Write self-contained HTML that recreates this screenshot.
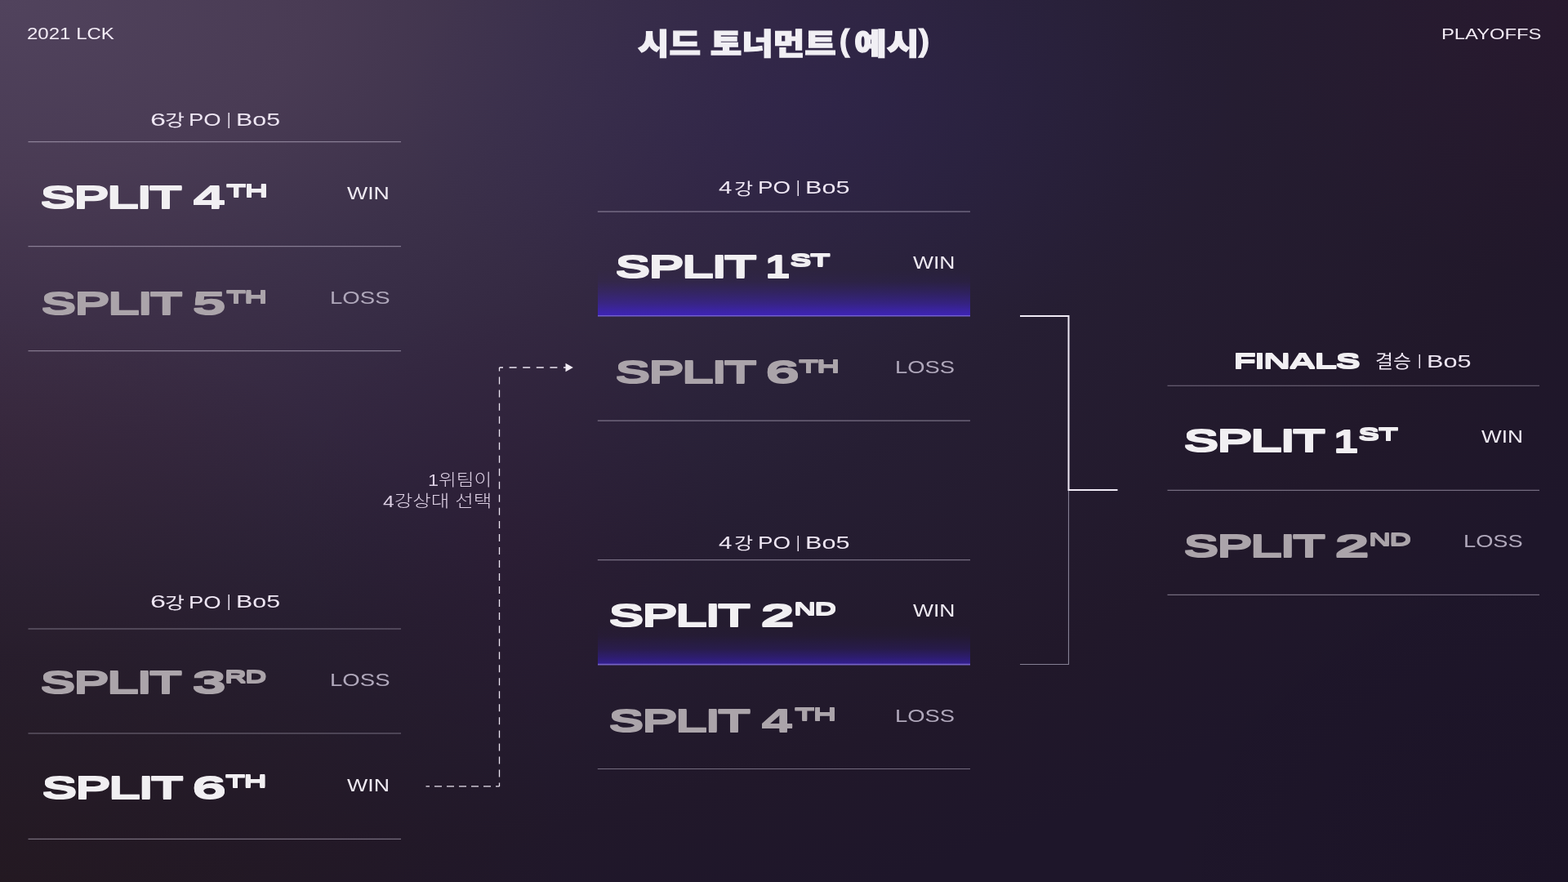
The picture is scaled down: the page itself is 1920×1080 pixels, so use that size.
<!DOCTYPE html>
<html lang="ko">
<head>
<meta charset="utf-8">
<title>시드 토너먼트(예시)</title>
<style>
html,body{margin:0;padding:0;width:1920px;height:1080px;overflow:hidden;background:#1f192d;}
#stage{position:relative;width:1920px;height:1080px;overflow:hidden;will-change:transform;
 background:
  radial-gradient(ellipse 520px 300px at 1000px 130px, rgba(40,30,120,0.16) 0%, rgba(40,30,120,0) 100%),
  radial-gradient(ellipse 700px 700px at 0px 1080px, rgba(40,26,14,0.30) 0%, rgba(40,26,14,0.18) 45%, rgba(40,26,14,0) 100%),
  radial-gradient(ellipse 280px 300px at 620px 650px, rgba(72,10,40,0.10) 0%, rgba(72,10,40,0) 100%),
  radial-gradient(ellipse 520px 360px at 0px 520px, rgba(95,40,50,0.10) 0%, rgba(95,40,50,0) 100%),
  radial-gradient(ellipse 420px 340px at 1920px 0px, rgba(80,30,70,0.14) 0%, rgba(80,30,70,0) 100%),
  radial-gradient(ellipse 500px 400px at 1920px 1080px, rgba(16,8,24,0.22) 0%, rgba(16,8,24,0) 100%),
  radial-gradient(ellipse 1920px 1080px at 0px 0px, rgb(81,67,93) 0%, rgb(73,59,84) 20%, rgb(60,49,74) 35%, rgb(51,40,65) 50%, rgb(42,34,57) 65%, rgb(38,30,51) 75%, rgb(33,24,42) 100%, rgb(30,22,42) 115%);
}
.t{position:absolute;white-space:pre;line-height:1;transform-origin:0 0;}
h1,h2,p,#stage div{margin:0;padding:0;font-size:0;line-height:0;font-weight:normal;}
#stage .hl{font-size:0;}
.hl{position:absolute;left:732px;width:456px;}
svg{position:absolute;left:0;top:0;}
</style>
</head>
<body>
<div id="stage">
<div class="hl" style="top:330px;height:56.8px;background:linear-gradient(to bottom, rgba(62,36,182,0) 0%, rgba(62,36,182,0.07) 26%, rgba(62,36,182,0.30) 50%, rgba(62,36,182,0.58) 73%, rgba(62,36,182,0.88) 90%, rgba(62,36,182,1) 100%);"></div>
<div class="hl" style="top:765px;height:48.6px;background:linear-gradient(to bottom, rgba(52,31,152,0) 0%, rgba(52,31,152,0.05) 28%, rgba(52,31,152,0.27) 60%, rgba(52,31,152,0.58) 80%, rgba(52,31,152,0.97) 100%);"></div>
<svg width="1920" height="1080" viewBox="0 0 1920 1080" fill="none">
 <g stroke="#f3eaff" stroke-opacity="0.40" stroke-width="1.15">
  <path d="M34.5 173.6H491M34.5 301.6H491M34.5 429.6H491"/>
  <path d="M34.5 770H491M34.5 898H491M34.5 1027.4H491"/>
  <path d="M731.8 259.05H1188M731.8 515.05H1188"/>
  <path d="M731.8 685.6H1188M731.8 941.5H1188"/>
  <path d="M1429.5 472.2H1885M1429.5 600.4H1885M1429.5 728.3H1885"/>
 </g>
 <g stroke-width="1.6">
  <path d="M732 386.8H1188" stroke="#725fd0"/><path d="M732 813.6H1188" stroke="#7562c4"/>
 </g>
 <path d="M1308.5 600V813.5H1249" stroke="#858094" stroke-width="1.15"/>
 <path d="M1249 387H1308.5V600H1368.5" stroke="#f0eaf5" stroke-width="2"/>
 <g stroke="#ece5f1" stroke-width="1.3" stroke-dashoffset="4.5">
  <path d="M521.5 962.8H611.5" stroke-dasharray="9 6"/>
  <path d="M611.5 963V450" stroke-dasharray="9 7.03"/>
  <path d="M611.5 450H694.5" stroke-dasharray="9 7.6"/>
 </g>
 <path d="M692.5 444.7L701.8 450L692.5 455.3Z" fill="#f3eef6"/>
</svg>
<div class="brand"><span class="t" style="left:33.26px;top:31.90px;font-family:'Liberation Sans','Noto Sans CJK KR',sans-serif;font-weight:400;font-size:19.43px;color:#f3ecf6;transform:scaleX(1.2373);">2021 LCK</span></div>
<div class="stage-name"><span class="t" style="left:1765.34px;top:32.58px;font-family:'Liberation Sans','Noto Sans CJK KR',sans-serif;font-weight:400;font-size:18.45px;color:#f3ecf6;transform:scaleX(1.2899);">PLAYOFFS</span></div>
<h1 class="title"><span class="t" style="left:780.68px;top:36.64px;font-family:'Liberation Sans','Noto Sans CJK KR',sans-serif;font-weight:900;font-size:36.82px;color:#f1eff4;transform:scaleX(1.1381);-webkit-text-stroke:1.25px #f1eff4;">시드 토너먼트</span><span class="t" style="left:1027.65px;top:31.08px;font-family:'Liberation Sans','Noto Sans CJK KR',sans-serif;font-weight:900;font-size:37.19px;color:#f1eff4;transform:scaleX(0.9885);-webkit-text-stroke:1.25px #f1eff4;">(</span><span class="t" style="left:1045.59px;top:37.13px;font-family:'Liberation Sans','Noto Sans CJK KR',sans-serif;font-weight:900;font-size:36.82px;color:#f1eff4;transform:scaleX(1.1745);-webkit-text-stroke:1.25px #f1eff4;">예시</span><span class="t" style="left:1125.43px;top:31.49px;font-family:'Liberation Sans','Noto Sans CJK KR',sans-serif;font-weight:900;font-size:37.19px;color:#f1eff4;transform:scaleX(1.0559);-webkit-text-stroke:1.25px #f1eff4;">)</span></h1>
<h2 class="round-head"><span class="t" style="left:183.71px;top:136.24px;font-family:'Liberation Sans','Noto Sans CJK KR',sans-serif;font-weight:400;font-size:22.42px;color:#eee6f3;transform:scaleX(1.5215);">6</span><span class="t" style="left:201.95px;top:138.19px;font-family:'Liberation Sans','Noto Sans CJK KR',sans-serif;font-weight:400;font-size:20.66px;color:#eee6f3;transform:scaleX(1.2612);">강</span> <span class="t" style="left:231.40px;top:136.32px;font-family:'Liberation Sans','Noto Sans CJK KR',sans-serif;font-weight:400;font-size:21.74px;color:#eee6f3;transform:scaleX(1.2615);">PO</span> <span class="t" style="left:278.01px;top:135.79px;font-family:'Liberation Sans','Noto Sans CJK KR',sans-serif;font-weight:400;font-size:20.17px;color:#eee6f3;transform:scaleX(0.8582);">|</span> <span class="t" style="left:289.11px;top:136.22px;font-family:'Liberation Sans','Noto Sans CJK KR',sans-serif;font-weight:400;font-size:21.74px;color:#eee6f3;transform:scaleX(1.3979);">Bo5</span></h2>
<h2 class="round-head"><span class="t" style="left:183.71px;top:726.08px;font-family:'Liberation Sans','Noto Sans CJK KR',sans-serif;font-weight:400;font-size:22.42px;color:#eee6f3;transform:scaleX(1.5215);">6</span><span class="t" style="left:202.34px;top:729.01px;font-family:'Liberation Sans','Noto Sans CJK KR',sans-serif;font-weight:400;font-size:20.66px;color:#eee6f3;transform:scaleX(1.2600);">강</span> <span class="t" style="left:231.40px;top:726.52px;font-family:'Liberation Sans','Noto Sans CJK KR',sans-serif;font-weight:400;font-size:21.74px;color:#eee6f3;transform:scaleX(1.2615);">PO</span> <span class="t" style="left:278.01px;top:726.33px;font-family:'Liberation Sans','Noto Sans CJK KR',sans-serif;font-weight:400;font-size:20.17px;color:#eee6f3;transform:scaleX(0.8582);">|</span> <span class="t" style="left:289.37px;top:726.02px;font-family:'Liberation Sans','Noto Sans CJK KR',sans-serif;font-weight:400;font-size:21.74px;color:#eee6f3;transform:scaleX(1.3966);">Bo5</span></h2>
<h2 class="round-head"><span class="t" style="left:880.41px;top:220.36px;font-family:'Liberation Sans','Noto Sans CJK KR',sans-serif;font-weight:400;font-size:21.29px;color:#eee6f3;transform:scaleX(1.3857);">4</span><span class="t" style="left:899.02px;top:221.66px;font-family:'Liberation Sans','Noto Sans CJK KR',sans-serif;font-weight:400;font-size:20.55px;color:#eee6f3;transform:scaleX(1.2209);">강</span> <span class="t" style="left:927.84px;top:219.34px;font-family:'Liberation Sans','Noto Sans CJK KR',sans-serif;font-weight:400;font-size:21.59px;color:#eee6f3;transform:scaleX(1.2828);">PO</span> <span class="t" style="left:974.78px;top:220.28px;font-family:'Liberation Sans','Noto Sans CJK KR',sans-serif;font-weight:400;font-size:19.87px;color:#eee6f3;transform:scaleX(0.8762);">|</span> <span class="t" style="left:985.85px;top:218.84px;font-family:'Liberation Sans','Noto Sans CJK KR',sans-serif;font-weight:400;font-size:21.59px;color:#eee6f3;transform:scaleX(1.4199);">Bo5</span></h2>
<h2 class="round-head"><span class="t" style="left:880.41px;top:654.76px;font-family:'Liberation Sans','Noto Sans CJK KR',sans-serif;font-weight:400;font-size:21.29px;color:#eee6f3;transform:scaleX(1.3857);">4</span><span class="t" style="left:899.02px;top:656.06px;font-family:'Liberation Sans','Noto Sans CJK KR',sans-serif;font-weight:400;font-size:20.55px;color:#eee6f3;transform:scaleX(1.2209);">강</span> <span class="t" style="left:927.84px;top:654.44px;font-family:'Liberation Sans','Noto Sans CJK KR',sans-serif;font-weight:400;font-size:21.59px;color:#eee6f3;transform:scaleX(1.2828);">PO</span> <span class="t" style="left:974.78px;top:654.54px;font-family:'Liberation Sans','Noto Sans CJK KR',sans-serif;font-weight:400;font-size:19.87px;color:#eee6f3;transform:scaleX(0.8762);">|</span> <span class="t" style="left:985.85px;top:653.54px;font-family:'Liberation Sans','Noto Sans CJK KR',sans-serif;font-weight:400;font-size:21.59px;color:#eee6f3;transform:scaleX(1.4199);">Bo5</span></h2>
<h2 class="round-head finals"><span class="t" style="left:1509.81px;top:430.22px;font-family:'Liberation Sans','DejaVu Sans',sans-serif;font-weight:700;font-size:25.32px;color:#f1eff2;transform:scaleX(1.8377);letter-spacing:-0.05em;text-shadow:0 1.00px 0 #f1eff2,0 -1.00px 0 #f1eff2;">FINALS</span> <span class="t" style="left:1684.24px;top:432.86px;font-family:'Liberation Sans','Noto Sans CJK KR',sans-serif;font-weight:400;font-size:21.24px;color:#eee6f3;transform:scaleX(1.1240);">결승</span> <span class="t" style="left:1736.05px;top:431.01px;font-family:'Liberation Sans','Noto Sans CJK KR',sans-serif;font-weight:400;font-size:19.05px;color:#eee6f3;transform:scaleX(0.9322);">|</span> <span class="t" style="left:1746.50px;top:432.12px;font-family:'Liberation Sans','Noto Sans CJK KR',sans-serif;font-weight:400;font-size:21.74px;color:#eee6f3;transform:scaleX(1.4093);">Bo5</span></h2>
<p class="note"><span class="t" style="left:523.57px;top:577.82px;font-family:'Liberation Sans','Noto Sans CJK KR',sans-serif;font-weight:300;font-size:20.81px;color:#dccfe3;transform:scaleX(1.1333);">1위팀이</span> <span class="t" style="left:468.52px;top:604.04px;font-family:'Liberation Sans','Noto Sans CJK KR',sans-serif;font-weight:300;font-size:20.37px;color:#dccfe3;transform:scaleX(1.2057);">4강상대 선택</span></p>
<div class="team win"><span class="t" style="left:49.46px;top:222.97px;font-family:'Liberation Sans','DejaVu Sans',sans-serif;font-weight:700;font-size:38.74px;color:#f1eff2;transform:scaleX(1.7059);letter-spacing:-0.05em;text-shadow:0 1.00px 0 #f1eff2,0 -1.00px 0 #f1eff2;">SPLIT</span> <span class="t" style="left:235.70px;top:222.57px;font-family:'Liberation Sans','DejaVu Sans',sans-serif;font-weight:700;font-size:38.67px;color:#f1eff2;transform:scaleX(1.8203);text-shadow:0 1.00px 0 #f1eff2,0 -1.00px 0 #f1eff2;">4</span><span class="t" style="left:276.50px;top:221.92px;font-family:'Liberation Sans','DejaVu Sans',sans-serif;font-weight:700;font-size:22.93px;color:#f1eff2;transform:scaleX(1.7447);letter-spacing:-0.05em;text-shadow:0 0.60px 0 #f1eff2,0 -0.60px 0 #f1eff2;">TH</span> <span class="t" style="left:425.48px;top:226.02px;font-family:'Liberation Sans','Noto Sans CJK KR',sans-serif;font-weight:400;font-size:21.74px;color:#efeaf3;transform:scaleX(1.2273);">WIN</span></div>
<div class="team loss"><span class="t" style="left:49.58px;top:352.96px;font-family:'Liberation Sans','DejaVu Sans',sans-serif;font-weight:700;font-size:38.74px;color:#aba4aa;transform:scaleX(1.7040);letter-spacing:-0.05em;text-shadow:0 1.00px 0 #aba4aa,0 -1.00px 0 #aba4aa;">SPLIT</span> <span class="t" style="left:235.43px;top:353.07px;font-family:'Liberation Sans','DejaVu Sans',sans-serif;font-weight:700;font-size:38.67px;color:#aba4aa;transform:scaleX(1.9395);text-shadow:0 1.00px 0 #aba4aa,0 -1.00px 0 #aba4aa;">5</span><span class="t" style="left:277.11px;top:351.62px;font-family:'Liberation Sans','DejaVu Sans',sans-serif;font-weight:700;font-size:22.93px;color:#aba4aa;transform:scaleX(1.7190);letter-spacing:-0.05em;text-shadow:0 0.60px 0 #aba4aa,0 -0.60px 0 #aba4aa;">TH</span> <span class="t" style="left:404.15px;top:354.04px;font-family:'Liberation Sans','Noto Sans CJK KR',sans-serif;font-weight:400;font-size:22.62px;color:#b0a8bb;transform:scaleX(1.2199);">LOSS</span></div>
<div class="team loss"><span class="t" style="left:49.46px;top:816.86px;font-family:'Liberation Sans','DejaVu Sans',sans-serif;font-weight:700;font-size:38.74px;color:#aba4aa;transform:scaleX(1.7059);letter-spacing:-0.05em;text-shadow:0 1.00px 0 #aba4aa,0 -1.00px 0 #aba4aa;">SPLIT</span> <span class="t" style="left:234.70px;top:816.97px;font-family:'Liberation Sans','DejaVu Sans',sans-serif;font-weight:700;font-size:38.67px;color:#aba4aa;transform:scaleX(1.9741);text-shadow:0 1.00px 0 #aba4aa,0 -1.00px 0 #aba4aa;">3</span><span class="t" style="left:274.60px;top:816.72px;font-family:'Liberation Sans','DejaVu Sans',sans-serif;font-weight:700;font-size:22.93px;color:#aba4aa;transform:scaleX(1.6241);letter-spacing:-0.05em;text-shadow:0 0.60px 0 #aba4aa,0 -0.60px 0 #aba4aa;">RD</span> <span class="t" style="left:404.05px;top:821.68px;font-family:'Liberation Sans','Noto Sans CJK KR',sans-serif;font-weight:400;font-size:22.11px;color:#b0a8bb;transform:scaleX(1.2463);">LOSS</span></div>
<div class="team win"><span class="t" style="left:50.58px;top:946.30px;font-family:'Liberation Sans','DejaVu Sans',sans-serif;font-weight:700;font-size:38.74px;color:#f1eff2;transform:scaleX(1.7040);letter-spacing:-0.05em;text-shadow:0 1.00px 0 #f1eff2,0 -1.00px 0 #f1eff2;">SPLIT</span> <span class="t" style="left:235.12px;top:946.37px;font-family:'Liberation Sans','DejaVu Sans',sans-serif;font-weight:700;font-size:38.67px;color:#f1eff2;transform:scaleX(1.9845);text-shadow:0 1.00px 0 #f1eff2,0 -1.00px 0 #f1eff2;">6</span><span class="t" style="left:276.32px;top:945.32px;font-family:'Liberation Sans','DejaVu Sans',sans-serif;font-weight:700;font-size:22.93px;color:#f1eff2;transform:scaleX(1.7282);letter-spacing:-0.05em;text-shadow:0 0.60px 0 #f1eff2,0 -0.60px 0 #f1eff2;">TH</span> <span class="t" style="left:425.21px;top:951.64px;font-family:'Liberation Sans','Noto Sans CJK KR',sans-serif;font-weight:400;font-size:21.38px;color:#efeaf3;transform:scaleX(1.2505);">WIN</span></div>
<div class="team win"><span class="t" style="left:752.58px;top:308.30px;font-family:'Liberation Sans','DejaVu Sans',sans-serif;font-weight:700;font-size:38.74px;color:#f1eff2;transform:scaleX(1.7040);letter-spacing:-0.05em;text-shadow:0 1.00px 0 #f1eff2,0 -1.00px 0 #f1eff2;">SPLIT</span> <span class="t" style="left:936.62px;top:308.37px;font-family:'Liberation Sans','DejaVu Sans',sans-serif;font-weight:700;font-size:38.67px;color:#f1eff2;transform:scaleX(1.4142);text-shadow:0 1.00px 0 #f1eff2,0 -1.00px 0 #f1eff2;">1</span><span class="t" style="left:966.78px;top:307.22px;font-family:'Liberation Sans','DejaVu Sans',sans-serif;font-weight:700;font-size:22.93px;color:#f1eff2;transform:scaleX(1.7680);letter-spacing:-0.05em;text-shadow:0 0.60px 0 #f1eff2,0 -0.60px 0 #f1eff2;">ST</span> <span class="t" style="left:1117.98px;top:312.27px;font-family:'Liberation Sans','Noto Sans CJK KR',sans-serif;font-weight:400;font-size:21.45px;color:#efeaf3;transform:scaleX(1.2340);">WIN</span></div>
<div class="team loss"><span class="t" style="left:752.83px;top:437.11px;font-family:'Liberation Sans','DejaVu Sans',sans-serif;font-weight:700;font-size:38.74px;color:#aba4aa;transform:scaleX(1.7036);letter-spacing:-0.05em;text-shadow:0 1.00px 0 #aba4aa,0 -1.00px 0 #aba4aa;">SPLIT</span> <span class="t" style="left:937.12px;top:437.47px;font-family:'Liberation Sans','DejaVu Sans',sans-serif;font-weight:700;font-size:38.67px;color:#aba4aa;transform:scaleX(1.9845);text-shadow:0 1.00px 0 #aba4aa,0 -1.00px 0 #aba4aa;">6</span><span class="t" style="left:978.23px;top:436.74px;font-family:'Liberation Sans','DejaVu Sans',sans-serif;font-weight:700;font-size:22.93px;color:#aba4aa;transform:scaleX(1.7203);letter-spacing:-0.05em;text-shadow:0 0.60px 0 #aba4aa,0 -0.60px 0 #aba4aa;">TH</span> <span class="t" style="left:1095.81px;top:438.68px;font-family:'Liberation Sans','Noto Sans CJK KR',sans-serif;font-weight:400;font-size:22.11px;color:#b0a8bb;transform:scaleX(1.2374);">LOSS</span></div>
<div class="team win"><span class="t" style="left:744.95px;top:734.87px;font-family:'Liberation Sans','DejaVu Sans',sans-serif;font-weight:700;font-size:38.74px;color:#f1eff2;transform:scaleX(1.7059);letter-spacing:-0.05em;text-shadow:0 1.00px 0 #f1eff2,0 -1.00px 0 #f1eff2;">SPLIT</span> <span class="t" style="left:931.12px;top:734.97px;font-family:'Liberation Sans','DejaVu Sans',sans-serif;font-weight:700;font-size:38.67px;color:#f1eff2;transform:scaleX(1.9676);text-shadow:0 1.00px 0 #f1eff2,0 -1.00px 0 #f1eff2;">2</span><span class="t" style="left:972.11px;top:734.12px;font-family:'Liberation Sans','DejaVu Sans',sans-serif;font-weight:700;font-size:22.93px;color:#f1eff2;transform:scaleX(1.6451);letter-spacing:-0.05em;text-shadow:0 0.60px 0 #f1eff2,0 -0.60px 0 #f1eff2;">ND</span> <span class="t" style="left:1117.74px;top:737.02px;font-family:'Liberation Sans','Noto Sans CJK KR',sans-serif;font-weight:400;font-size:21.74px;color:#efeaf3;transform:scaleX(1.2184);">WIN</span></div>
<div class="team loss"><span class="t" style="left:744.95px;top:864.38px;font-family:'Liberation Sans','DejaVu Sans',sans-serif;font-weight:700;font-size:38.74px;color:#aba4aa;transform:scaleX(1.7059);letter-spacing:-0.05em;text-shadow:0 1.00px 0 #aba4aa,0 -1.00px 0 #aba4aa;">SPLIT</span> <span class="t" style="left:932.31px;top:863.97px;font-family:'Liberation Sans','DejaVu Sans',sans-serif;font-weight:700;font-size:38.67px;color:#aba4aa;transform:scaleX(1.7880);text-shadow:0 1.00px 0 #aba4aa,0 -1.00px 0 #aba4aa;">4</span><span class="t" style="left:973.10px;top:862.77px;font-family:'Liberation Sans','DejaVu Sans',sans-serif;font-weight:700;font-size:22.93px;color:#aba4aa;transform:scaleX(1.7478);letter-spacing:-0.05em;text-shadow:0 0.60px 0 #aba4aa,0 -0.60px 0 #aba4aa;">TH</span> <span class="t" style="left:1095.60px;top:865.09px;font-family:'Liberation Sans','Noto Sans CJK KR',sans-serif;font-weight:400;font-size:22.81px;color:#b0a8bb;transform:scaleX(1.1996);">LOSS</span></div>
<div class="team win"><span class="t" style="left:1449.46px;top:521.37px;font-family:'Liberation Sans','DejaVu Sans',sans-serif;font-weight:700;font-size:38.74px;color:#f1eff2;transform:scaleX(1.7059);letter-spacing:-0.05em;text-shadow:0 1.00px 0 #f1eff2,0 -1.00px 0 #f1eff2;">SPLIT</span> <span class="t" style="left:1633.17px;top:521.97px;font-family:'Liberation Sans','DejaVu Sans',sans-serif;font-weight:700;font-size:38.67px;color:#f1eff2;transform:scaleX(1.4067);text-shadow:0 1.00px 0 #f1eff2,0 -1.00px 0 #f1eff2;">1</span><span class="t" style="left:1663.37px;top:519.97px;font-family:'Liberation Sans','DejaVu Sans',sans-serif;font-weight:700;font-size:22.93px;color:#f1eff2;transform:scaleX(1.7460);letter-spacing:-0.05em;text-shadow:0 0.60px 0 #f1eff2,0 -0.60px 0 #f1eff2;">ST</span> <span class="t" style="left:1814.24px;top:523.52px;font-family:'Liberation Sans','Noto Sans CJK KR',sans-serif;font-weight:400;font-size:21.74px;color:#efeaf3;transform:scaleX(1.2059);">WIN</span></div>
<div class="team loss"><span class="t" style="left:1449.46px;top:649.87px;font-family:'Liberation Sans','DejaVu Sans',sans-serif;font-weight:700;font-size:38.74px;color:#aba4aa;transform:scaleX(1.7059);letter-spacing:-0.05em;text-shadow:0 1.00px 0 #aba4aa,0 -1.00px 0 #aba4aa;">SPLIT</span> <span class="t" style="left:1633.88px;top:650.22px;font-family:'Liberation Sans','DejaVu Sans',sans-serif;font-weight:700;font-size:38.67px;color:#aba4aa;transform:scaleX(2.0171);text-shadow:0 1.00px 0 #aba4aa,0 -1.00px 0 #aba4aa;">2</span><span class="t" style="left:1675.63px;top:648.62px;font-family:'Liberation Sans','DejaVu Sans',sans-serif;font-weight:700;font-size:22.93px;color:#aba4aa;transform:scaleX(1.6403);letter-spacing:-0.05em;text-shadow:0 0.60px 0 #aba4aa,0 -0.60px 0 #aba4aa;">ND</span> <span class="t" style="left:1792.32px;top:651.68px;font-family:'Liberation Sans','Noto Sans CJK KR',sans-serif;font-weight:400;font-size:22.11px;color:#b0a8bb;transform:scaleX(1.2329);">LOSS</span></div>
</div>
</body>
</html>
